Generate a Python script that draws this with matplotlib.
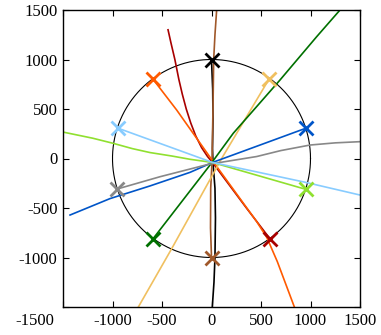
import matplotlib
matplotlib.use("Agg")
import matplotlib.pyplot as plt
import numpy as np

plt.rcParams['font.family'] = ['Liberation Serif', 'DejaVu Serif']

# Each series: path points (first point = X marker on the circle of radius 1000)
black_x = [0, 12, 15, 10, 15, 35, 40, 35, 25, 8]
black_y = [1000, 700, 400, 100, -40, -300, -600, -1000, -1250, -1500]

brown_x = [0, -10, -8, 5, 15, 22, 35, 52]
brown_y = [-1000, -700, -300, -40, 500, 1000, 1250, 1500]

darkred_x = [590, 355, 10, -40, -100, -160, -210, -255, -295, -330, -370, -410, -439]
darkred_y = [-810, -503, -40, 20, 110, 230, 360, 500, 650, 800, 1000, 1170, 1300]

orange_x = [-590, -352, 10, 457, 560, 665, 837]
orange_y = [800, 490, -22, -638, -800, -1042, -1500]

yellow_x = [580, 113, -400, -739]
yellow_y = [800, 18, -907, -1500]

dgreen_x = [-590, -15, 220, 692, 1062, 1298]
dgreen_y = [-810, -66, 255, 793, 1230, 1500]

blue_x = [951, 692, 10, -217, -621, -1025, -1429]
blue_y = [305, 210, -40, -140, -277, -405, -571]

gray_x = [-952, -520, -32, 457, 700, 995, 1250, 1500]
gray_y = [-308, -184, -59, 20, 80, 136, 158, 170]

chart_x = [951, 10, -217, -400, -621, -800, -992, -1200, -1500]
chart_y = [-311, -40, -8, 25, 60, 100, 153, 205, 267]

lblue_x = [-941, 10, 951, 1500]
lblue_y = [305, -40, -241, -369]

series = [
    (black_x, black_y, '#000000'),
    (brown_x, brown_y, '#a0582a'),
    (darkred_x, darkred_y, '#a80000'),
    (orange_x, orange_y, '#ff5a00'),
    (yellow_x, yellow_y, '#f0c060'),
    (dgreen_x, dgreen_y, '#007000'),
    (blue_x, blue_y, '#0055c8'),
    (gray_x, gray_y, '#888888'),
    (chart_x, chart_y, '#90e030'),
    (lblue_x, lblue_y, '#88ccff'),
]

xticks = [-1500, -1000, -500, 0, 500, 1000, 1500]
yticks = [-1500, -1000, -500, 0, 500, 1000, 1500]
xticklabels = ['', '-1000', '-500', '0', '500', '1000', '1500']
yticklabels = ['', '-1000', '-500', '0', '500', '1000', '1500']

fig = plt.figure(figsize=(3.81, 3.35), dpi=100)
ax = fig.add_axes([63/381, 1-307/335, 297/381, 297/335])

th = np.linspace(0, 2*np.pi, 400)
ax.plot(1000*np.cos(th), 1000*np.sin(th), color='black', lw=0.8)

for xs, ys, c in series:
    ax.plot(xs, ys, color=c, lw=1.2)
for xs, ys, c in series:
    ax.plot(xs[0], ys[0], marker='x', ms=9.5, mew=2.0, color=c, ls='none')

ax.set_xlim(-1500, 1500)
ax.set_ylim(-1500, 1500)
ax.set_xticks(xticks)
ax.set_yticks(yticks)
ax.set_xticklabels(xticklabels)
ax.set_yticklabels(yticklabels)
ax.tick_params(direction='in', length=4, width=0.8, top=True, right=True,
               labelsize=12, pad=4)
for s in ax.spines.values():
    s.set_linewidth(1.0)

ax.annotate('-1500', xy=(-1500, -1500), xytext=(-28, -6), textcoords='offset pixels',
            ha='center', va='top', fontsize=12, annotation_clip=False)

fig.savefig('out.png', dpi=100)
